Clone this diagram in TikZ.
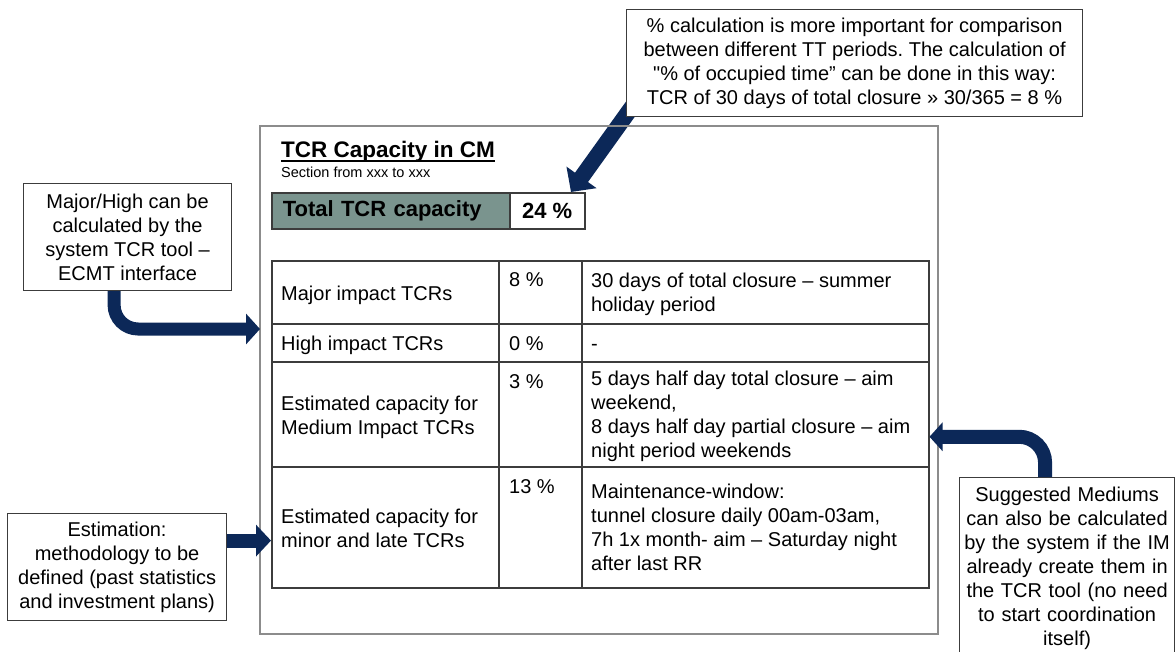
\documentclass[tikz,border=0pt]{standalone}
\usepackage{fontspec}
\setmainfont{Liberation Sans}[Ligatures=TeXOff]
\usetikzlibrary{arrows.meta}
\definecolor{navy}{RGB}{12,40,88}
\definecolor{tealgray}{RGB}{122,148,142}
\definecolor{framegray}{RGB}{140,140,140}
\definecolor{linegray}{RGB}{60,60,60}
\newcommand\fsz{\fontsize{20}{24}\selectfont}
\pgfdeclarelayer{bg}
\pgfsetlayers{bg,main}
\frenchspacing
\begin{document}
\begin{tikzpicture}[x=1pt,y=-1pt,
  callout/.style={draw=linegray, line width=1.2pt, fill=white, align=center, font=\fsz, inner sep=0pt},
  cell/.style={anchor=base west, align=left, font=\fsz, inner sep=0pt},
  bigarrow/.style={draw=navy, fill=navy, line width=13pt},
  tline/.style={draw=linegray, line width=1.5pt}
]
\useasboundingbox (0,0) rectangle (1175,651);
\begin{pgfonlayer}{bg}
\fill[white] (0,0) rectangle (1175,651);
\end{pgfonlayer}

% frame
\node[draw=framegray, line width=2pt, minimum width=678pt, minimum height=508pt, anchor=north west, inner sep=0pt] (frame) at (259,125) {};

% title
\node[anchor=base west, inner sep=0pt, font=\fontsize{22.5}{27}\selectfont\bfseries] (title) at (281,157) {TCR Capacity in CM};
\draw[line width=1.5pt] ([yshift=-4pt]title.base west) -- ([yshift=-4pt]title.base east);
\node[anchor=base west, inner sep=0pt, font=\fontsize{14.5}{17}\selectfont] (sub) at (281,177) {Section from xxx to xxx};

% total
\node[tline, fill=tealgray, text width=216pt, inner xsep=11pt, inner ysep=0pt, minimum height=36pt, align=left, anchor=north west, font=\fontsize{22}{26}\selectfont\bfseries] (totl) at (271,192) {Total TCR capacity};
\node[tline, fill=white, minimum width=75pt, minimum height=36pt, inner sep=0pt, anchor=north west, font=\fontsize{22}{26}\selectfont\bfseries] (totv) at (509,192) {24 \%};

% table
\node[tline, minimum width=657pt, minimum height=327pt, anchor=north west, inner sep=0pt] (tbl) at (271,260) {};
\draw[tline] (271,324) -- (928,324);
\draw[tline] (271,362) -- (928,362);
\draw[tline] (271,467) -- (928,467);
\draw[tline] (499,260) -- (499,587);
\draw[tline] (582,260) -- (582,587);

% (base anchor of a multi-line node = baseline of its last line)
\node[cell] (r1c1) at (281,300) {Major impact TCRs};
\node[cell] (r1c2) at (509,286) {8 \%};
\node[cell] (r1c3) at (591,311) {30 days of total closure – summer\\holiday period};
\node[cell] (r2c1) at (281,350) {High impact TCRs};
\node[cell] (r2c2) at (509,350) {0 \%};
\node[cell] (r2c3) at (591,350) {-};
\node[cell] (r3c1) at (281,434) {Estimated capacity for\\Medium Impact TCRs};
\node[cell] (r3c2) at (509,388) {3 \%};
\node[cell] (r3c3) at (591,457) {5 days half day total closure – aim\\weekend,\\8 days half day partial closure – aim\\night period weekends};
\node[cell] (r4c1) at (281,547) {Estimated capacity for\\minor and late TCRs};
\node[cell] (r4c2) at (509,493) {13 \%};
\node[cell] (r4c3) at (591,570) {Maintenance-window:\\tunnel closure daily 00am-03am,\\7h 1x month- aim – Saturday night\\after last RR};

% callouts
\node[callout, minimum width=456pt, minimum height=107pt, anchor=north west] (topc) at (626,9) {\% calculation is more important for comparison\\between different TT periods. The calculation of\\"\% of occupied time” can be done in this way:\\TCR of 30 days of total closure » 30/365 = 8 \%};
\node[callout, minimum width=208pt, minimum height=107pt, anchor=north west] (cl1) at (23,183) {Major/High can be\\calculated by the\\system TCR tool –\\ECMT interface};
\node[callout, minimum width=219pt, minimum height=107pt, anchor=north west] (cl2) at (7,513) {Estimation:\\methodology to be\\defined (past statistics\\and investment plans)};
\node[callout, text width=215pt, inner xsep=0pt, inner ysep=9pt, anchor=north west] (rc) at (959,477) {Suggested Mediums\\can also be calculated\\by the system if the IM\\already create them in\\the TCR tool (no need\\to start coordination\\itself)};

% arrows
\begin{pgfonlayer}{bg}
\draw[bigarrow, line width=16pt, -{Triangle[length=18pt,width=36pt]}] ([xshift=23pt,yshift=34pt]topc.south west) -- ([xshift=62pt]totv.north west);
\end{pgfonlayer}
\draw[bigarrow, fill=none, rounded corners=24pt, -{Triangle[length=14pt,width=30pt]}] ([xshift=-13.5pt]cl1.south) |- ([xshift=1pt,yshift=51pt]frame.west);
\draw[bigarrow, line width=14pt, -{Triangle[length=15pt,width=31pt]}] ([yshift=26.5pt]cl2.east) -- ([yshift=26.5pt]cl2.east -| tbl.west);
\draw[bigarrow, fill=none, line width=14pt, rounded corners=26pt, -{Triangle[length=13pt,width=28pt]}] ([xshift=-22pt]rc.north) |- ([yshift=-12.5pt]tbl.east);
\end{tikzpicture}
\end{document}
